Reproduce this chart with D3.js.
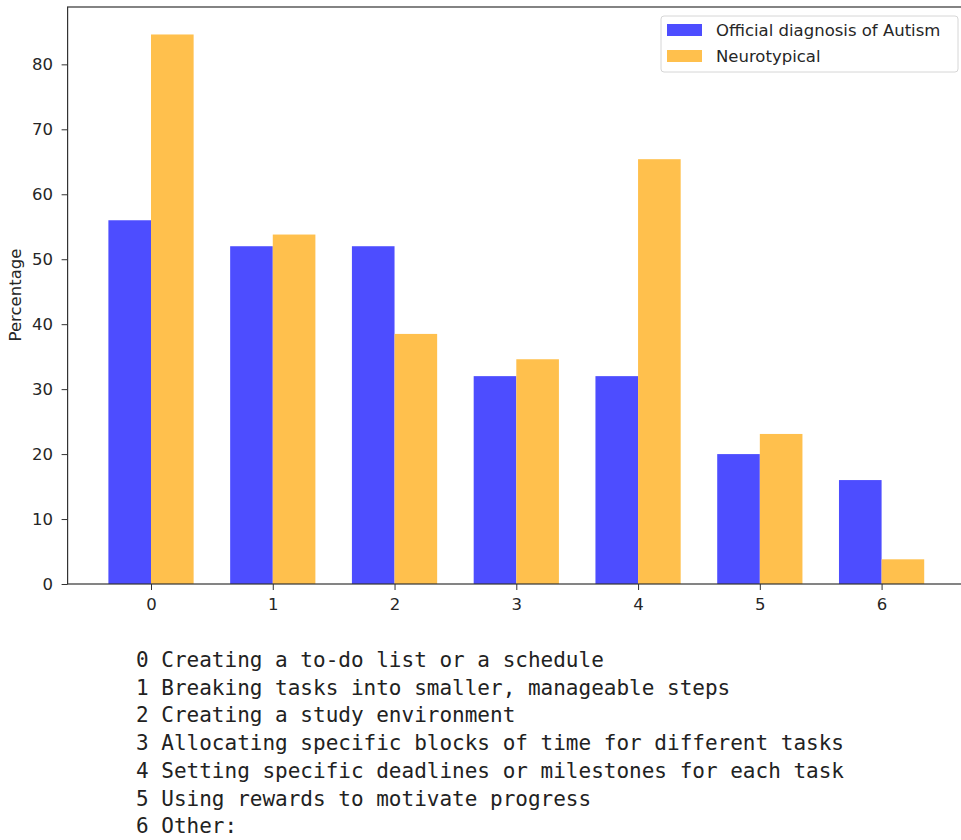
<!DOCTYPE html>
<html><head><meta charset="utf-8">
<script src="https://cdn.jsdelivr.net/npm/d3@7"></script>
<style>body{margin:0;background:#fff;} svg{display:block;}</style>
</head><body>
<script>
const categories = ["0","1","2","3","4","5","6"];
const seriesNames = ["Official diagnosis of Autism","Neurotypical"];
const autism = [56, 52, 52, 32, 32, 20, 16];
const neurotypical = [84.6, 53.8, 38.5, 34.6, 65.4, 23.1, 3.8];
const yTicks = [0,10,20,30,40,50,60,70,80];
const descriptions = [
 "0 Creating a to-do list or a schedule",
 "1 Breaking tasks into smaller, manageable steps",
 "2 Creating a study environment",
 "3 Allocating specific blocks of time for different tasks",
 "4 Setting specific deadlines or milestones for each task",
 "5 Using rewards to motivate progress",
 "6 Other:"
];
const colors = ["#4d4dff","#ffc04d"];

(function(){
const W=961,H=840;
const svg=d3.select("body").append("svg").attr("width",W).attr("height",H);
const mLeft=67.6, mRight=965, mTop=7, mBottom=584;
const barW=0.35;
const x=d3.scaleLinear().domain([-0.685,6.685]).range([mLeft,mRight]);
const ymax=d3.max(neurotypical.concat(autism))*1.05;
const y=d3.scaleLinear().domain([0,ymax]).range([mBottom,mTop]);

const series=[autism,neurotypical];
series.forEach((vals,si)=>{
  svg.append("g").selectAll("rect").data(vals).join("rect")
    .attr("x",(d,i)=>x(i+(si===0?-barW:0)))
    .attr("width",x(barW)-x(0))
    .attr("y",d=>y(d))
    .attr("height",d=>y(0)-y(d))
    .attr("fill",colors[si]);
});

const font="DejaVu Sans, sans-serif";
const fs=16.5;
const xAxis=svg.append("g").attr("transform",`translate(0,${mBottom})`)
  .call(d3.axisBottom(x).tickValues(categories.map(Number)).tickFormat((d,i)=>categories[i]).tickSizeOuter(0).tickSize(6).tickPadding(8));
const yAxis=svg.append("g").attr("transform",`translate(${mLeft},0)`)
  .call(d3.axisLeft(y).tickValues(yTicks).tickSizeOuter(0).tickSize(6).tickPadding(8.5));
[xAxis,yAxis].forEach(g=>{
  g.selectAll("text").attr("font-family",font).attr("font-size",fs).attr("fill","#262626");
  g.selectAll("line").attr("stroke","#333");
  g.select(".domain").remove();
});
svg.append("rect").attr("x",mLeft).attr("y",mTop).attr("width",mRight-mLeft).attr("height",mBottom-mTop)
  .attr("fill","none").attr("stroke","#333").attr("stroke-width",1.2);

svg.append("text").attr("transform",`translate(21,295) rotate(-90)`)
  .attr("text-anchor","middle").attr("font-family",font).attr("font-size",fs).attr("fill","#262626")
  .text("Percentage");

const lg=svg.append("g");
lg.append("rect").attr("x",661).attr("y",16).attr("width",297).attr("height",56).attr("rx",3)
  .attr("fill","#fff").attr("fill-opacity",0.8).attr("stroke","#d6d6d6");
seriesNames.forEach((n,i)=>{
  lg.append("rect").attr("x",667).attr("y",24+i*26).attr("width",35).attr("height",12).attr("fill",colors[i]);
  lg.append("text").attr("x",716).attr("y",36+i*26).attr("font-family",font).attr("font-size",fs)
    .attr("fill","#262626").text(n);
});

svg.append("g").selectAll("text").data(descriptions).join("text")
  .attr("x",136).attr("y",(d,i)=>667+i*27.7)
  .attr("font-family","DejaVu Sans Mono, Liberation Mono, monospace").attr("font-size",21)
  .attr("fill","#222").style("white-space","pre").text(d=>d);
})();
</script>
</body></html>
